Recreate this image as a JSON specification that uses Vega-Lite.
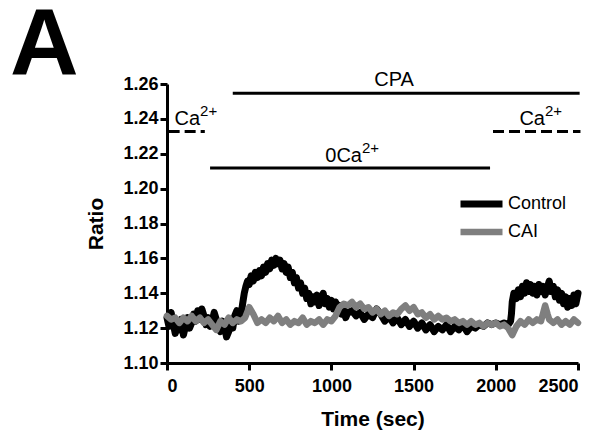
{
  "$schema": "https://vega.github.io/schema/vega-lite/v6.json",
  "width": 411,
  "height": 279,
  "autosize": {"type": "none"},
  "padding": {"left": 167, "top": 84, "right": 25, "bottom": 71},
  "background": "white",
  "title": {"text": "A", "fontSize": 95, "font": "Liberation Sans", "fontWeight": "bold", "color": "black", "anchor": "start", "frame": "group", "dx": -157, "offset": -25},
  "config": {
    "view": {"stroke": null},
    "font": "Liberation Sans",
    "axis": {"domainColor": "black", "domainWidth": 3, "tickColor": "black", "tickWidth": 3, "tickSize": 7, "grid": false, "labelOverlap": false, "labelFont": "Liberation Sans", "labelFontWeight": "bold", "labelFontSize": 18, "labelColor": "black", "titleFont": "Liberation Sans", "titleFontWeight": "bold", "titleFontSize": 21, "titleColor": "black"}
  },
  "datasets": {
    "traces": [
      {"t":0,"ratio":1.126,"series":"Control"},{"t":12,"ratio":1.121,"series":"Control"},{"t":25,"ratio":1.129,"series":"Control"},{"t":37,"ratio":1.123,"series":"Control"},{"t":50,"ratio":1.117,"series":"Control"},{"t":62,"ratio":1.122,"series":"Control"},{"t":75,"ratio":1.119,"series":"Control"},{"t":87,"ratio":1.125,"series":"Control"},{"t":100,"ratio":1.116,"series":"Control"},{"t":112,"ratio":1.121,"series":"Control"},{"t":125,"ratio":1.126,"series":"Control"},{"t":137,"ratio":1.120,"series":"Control"},{"t":150,"ratio":1.123,"series":"Control"},{"t":162,"ratio":1.128,"series":"Control"},{"t":175,"ratio":1.124,"series":"Control"},{"t":187,"ratio":1.130,"series":"Control"},{"t":200,"ratio":1.125,"series":"Control"},{"t":212,"ratio":1.131,"series":"Control"},{"t":225,"ratio":1.127,"series":"Control"},{"t":237,"ratio":1.122,"series":"Control"},{"t":250,"ratio":1.126,"series":"Control"},{"t":262,"ratio":1.121,"series":"Control"},{"t":275,"ratio":1.124,"series":"Control"},{"t":287,"ratio":1.129,"series":"Control"},{"t":300,"ratio":1.125,"series":"Control"},{"t":312,"ratio":1.120,"series":"Control"},{"t":325,"ratio":1.118,"series":"Control"},{"t":337,"ratio":1.124,"series":"Control"},{"t":350,"ratio":1.121,"series":"Control"},{"t":362,"ratio":1.115,"series":"Control"},{"t":375,"ratio":1.118,"series":"Control"},{"t":387,"ratio":1.123,"series":"Control"},{"t":400,"ratio":1.120,"series":"Control"},{"t":412,"ratio":1.127,"series":"Control"},{"t":425,"ratio":1.130,"series":"Control"},{"t":437,"ratio":1.124,"series":"Control"},{"t":450,"ratio":1.127,"series":"Control"},
      {"t":460,"ratio":1.134,"series":"Control"},{"t":470,"ratio":1.140,"series":"Control"},{"t":480,"ratio":1.144,"series":"Control"},{"t":490,"ratio":1.147,"series":"Control"},{"t":500,"ratio":1.145,"series":"Control"},{"t":512,"ratio":1.150,"series":"Control"},{"t":525,"ratio":1.147,"series":"Control"},{"t":537,"ratio":1.152,"series":"Control"},{"t":550,"ratio":1.149,"series":"Control"},{"t":562,"ratio":1.153,"series":"Control"},{"t":575,"ratio":1.150,"series":"Control"},{"t":587,"ratio":1.155,"series":"Control"},{"t":600,"ratio":1.152,"series":"Control"},{"t":612,"ratio":1.157,"series":"Control"},{"t":625,"ratio":1.154,"series":"Control"},{"t":637,"ratio":1.159,"series":"Control"},{"t":650,"ratio":1.156,"series":"Control"},{"t":662,"ratio":1.160,"series":"Control"},{"t":675,"ratio":1.157,"series":"Control"},{"t":687,"ratio":1.159,"series":"Control"},{"t":700,"ratio":1.154,"series":"Control"},{"t":712,"ratio":1.157,"series":"Control"},{"t":725,"ratio":1.152,"series":"Control"},{"t":737,"ratio":1.155,"series":"Control"},{"t":750,"ratio":1.149,"series":"Control"},{"t":762,"ratio":1.152,"series":"Control"},{"t":775,"ratio":1.146,"series":"Control"},{"t":787,"ratio":1.149,"series":"Control"},{"t":800,"ratio":1.143,"series":"Control"},{"t":812,"ratio":1.146,"series":"Control"},{"t":825,"ratio":1.140,"series":"Control"},{"t":837,"ratio":1.143,"series":"Control"},{"t":850,"ratio":1.137,"series":"Control"},{"t":862,"ratio":1.140,"series":"Control"},{"t":875,"ratio":1.134,"series":"Control"},{"t":887,"ratio":1.138,"series":"Control"},{"t":900,"ratio":1.135,"series":"Control"},{"t":912,"ratio":1.139,"series":"Control"},{"t":925,"ratio":1.133,"series":"Control"},{"t":937,"ratio":1.137,"series":"Control"},{"t":950,"ratio":1.140,"series":"Control"},{"t":962,"ratio":1.134,"series":"Control"},{"t":975,"ratio":1.137,"series":"Control"},{"t":987,"ratio":1.132,"series":"Control"},{"t":1000,"ratio":1.136,"series":"Control"},{"t":1012,"ratio":1.131,"series":"Control"},{"t":1025,"ratio":1.135,"series":"Control"},{"t":1037,"ratio":1.130,"series":"Control"},{"t":1050,"ratio":1.133,"series":"Control"},{"t":1062,"ratio":1.128,"series":"Control"},{"t":1075,"ratio":1.131,"series":"Control"},{"t":1087,"ratio":1.126,"series":"Control"},{"t":1100,"ratio":1.129,"series":"Control"},
      {"t":1125,"ratio":1.130,"series":"Control"},{"t":1150,"ratio":1.127,"series":"Control"},{"t":1175,"ratio":1.129,"series":"Control"},{"t":1200,"ratio":1.125,"series":"Control"},{"t":1225,"ratio":1.128,"series":"Control"},{"t":1250,"ratio":1.126,"series":"Control"},{"t":1275,"ratio":1.131,"series":"Control"},{"t":1300,"ratio":1.128,"series":"Control"},{"t":1325,"ratio":1.124,"series":"Control"},{"t":1350,"ratio":1.127,"series":"Control"},{"t":1375,"ratio":1.123,"series":"Control"},{"t":1400,"ratio":1.126,"series":"Control"},{"t":1425,"ratio":1.122,"series":"Control"},{"t":1450,"ratio":1.125,"series":"Control"},{"t":1475,"ratio":1.121,"series":"Control"},{"t":1500,"ratio":1.124,"series":"Control"},{"t":1525,"ratio":1.120,"series":"Control"},{"t":1550,"ratio":1.123,"series":"Control"},{"t":1575,"ratio":1.119,"series":"Control"},{"t":1600,"ratio":1.122,"series":"Control"},{"t":1625,"ratio":1.118,"series":"Control"},{"t":1650,"ratio":1.121,"series":"Control"},{"t":1675,"ratio":1.119,"series":"Control"},{"t":1700,"ratio":1.122,"series":"Control"},{"t":1725,"ratio":1.118,"series":"Control"},{"t":1750,"ratio":1.121,"series":"Control"},{"t":1775,"ratio":1.119,"series":"Control"},{"t":1800,"ratio":1.122,"series":"Control"},{"t":1825,"ratio":1.118,"series":"Control"},{"t":1850,"ratio":1.121,"series":"Control"},{"t":1875,"ratio":1.120,"series":"Control"},{"t":1900,"ratio":1.122,"series":"Control"},{"t":1925,"ratio":1.121,"series":"Control"},{"t":1950,"ratio":1.123,"series":"Control"},{"t":1975,"ratio":1.122,"series":"Control"},{"t":2000,"ratio":1.123,"series":"Control"},{"t":2025,"ratio":1.122,"series":"Control"},{"t":2050,"ratio":1.123,"series":"Control"},{"t":2075,"ratio":1.122,"series":"Control"},{"t":2090,"ratio":1.124,"series":"Control"},
      {"t":2095,"ratio":1.128,"series":"Control"},{"t":2100,"ratio":1.135,"series":"Control"},{"t":2110,"ratio":1.140,"series":"Control"},{"t":2125,"ratio":1.137,"series":"Control"},{"t":2137,"ratio":1.142,"series":"Control"},{"t":2150,"ratio":1.138,"series":"Control"},{"t":2162,"ratio":1.144,"series":"Control"},{"t":2175,"ratio":1.140,"series":"Control"},{"t":2187,"ratio":1.146,"series":"Control"},{"t":2200,"ratio":1.141,"series":"Control"},{"t":2212,"ratio":1.145,"series":"Control"},{"t":2225,"ratio":1.140,"series":"Control"},{"t":2237,"ratio":1.144,"series":"Control"},{"t":2250,"ratio":1.139,"series":"Control"},{"t":2262,"ratio":1.145,"series":"Control"},{"t":2275,"ratio":1.141,"series":"Control"},{"t":2287,"ratio":1.144,"series":"Control"},{"t":2300,"ratio":1.139,"series":"Control"},{"t":2312,"ratio":1.143,"series":"Control"},{"t":2325,"ratio":1.147,"series":"Control"},{"t":2337,"ratio":1.141,"series":"Control"},{"t":2350,"ratio":1.144,"series":"Control"},{"t":2362,"ratio":1.138,"series":"Control"},{"t":2375,"ratio":1.142,"series":"Control"},{"t":2387,"ratio":1.136,"series":"Control"},{"t":2400,"ratio":1.140,"series":"Control"},{"t":2412,"ratio":1.134,"series":"Control"},{"t":2425,"ratio":1.138,"series":"Control"},{"t":2437,"ratio":1.132,"series":"Control"},{"t":2450,"ratio":1.137,"series":"Control"},{"t":2462,"ratio":1.133,"series":"Control"},{"t":2475,"ratio":1.139,"series":"Control"},{"t":2487,"ratio":1.134,"series":"Control"},{"t":2500,"ratio":1.140,"series":"Control"},
      {"t":0,"ratio":1.127,"series":"CAI"},{"t":25,"ratio":1.125,"series":"CAI"},{"t":50,"ratio":1.126,"series":"CAI"},{"t":75,"ratio":1.123,"series":"CAI"},{"t":100,"ratio":1.126,"series":"CAI"},{"t":125,"ratio":1.124,"series":"CAI"},{"t":150,"ratio":1.127,"series":"CAI"},{"t":175,"ratio":1.124,"series":"CAI"},{"t":200,"ratio":1.126,"series":"CAI"},{"t":225,"ratio":1.123,"series":"CAI"},{"t":250,"ratio":1.125,"series":"CAI"},{"t":275,"ratio":1.122,"series":"CAI"},{"t":300,"ratio":1.119,"series":"CAI"},{"t":325,"ratio":1.124,"series":"CAI"},{"t":350,"ratio":1.122,"series":"CAI"},{"t":375,"ratio":1.126,"series":"CAI"},{"t":400,"ratio":1.123,"series":"CAI"},{"t":425,"ratio":1.125,"series":"CAI"},{"t":450,"ratio":1.124,"series":"CAI"},{"t":475,"ratio":1.126,"series":"CAI"},{"t":500,"ratio":1.132,"series":"CAI"},{"t":525,"ratio":1.128,"series":"CAI"},{"t":550,"ratio":1.123,"series":"CAI"},{"t":575,"ratio":1.125,"series":"CAI"},{"t":600,"ratio":1.123,"series":"CAI"},{"t":625,"ratio":1.126,"series":"CAI"},{"t":650,"ratio":1.124,"series":"CAI"},{"t":675,"ratio":1.127,"series":"CAI"},{"t":700,"ratio":1.123,"series":"CAI"},{"t":725,"ratio":1.125,"series":"CAI"},{"t":750,"ratio":1.122,"series":"CAI"},{"t":775,"ratio":1.124,"series":"CAI"},{"t":800,"ratio":1.123,"series":"CAI"},{"t":825,"ratio":1.126,"series":"CAI"},{"t":850,"ratio":1.122,"series":"CAI"},{"t":875,"ratio":1.124,"series":"CAI"},{"t":900,"ratio":1.123,"series":"CAI"},{"t":925,"ratio":1.125,"series":"CAI"},{"t":950,"ratio":1.122,"series":"CAI"},{"t":975,"ratio":1.125,"series":"CAI"},{"t":1000,"ratio":1.124,"series":"CAI"},{"t":1025,"ratio":1.127,"series":"CAI"},{"t":1050,"ratio":1.132,"series":"CAI"},{"t":1075,"ratio":1.134,"series":"CAI"},{"t":1100,"ratio":1.133,"series":"CAI"},{"t":1125,"ratio":1.135,"series":"CAI"},{"t":1150,"ratio":1.132,"series":"CAI"},{"t":1175,"ratio":1.134,"series":"CAI"},{"t":1200,"ratio":1.131,"series":"CAI"},{"t":1225,"ratio":1.132,"series":"CAI"},{"t":1250,"ratio":1.129,"series":"CAI"},{"t":1275,"ratio":1.131,"series":"CAI"},{"t":1300,"ratio":1.128,"series":"CAI"},{"t":1325,"ratio":1.130,"series":"CAI"},{"t":1350,"ratio":1.127,"series":"CAI"},{"t":1375,"ratio":1.129,"series":"CAI"},{"t":1400,"ratio":1.128,"series":"CAI"},{"t":1425,"ratio":1.131,"series":"CAI"},{"t":1450,"ratio":1.133,"series":"CAI"},{"t":1475,"ratio":1.130,"series":"CAI"},{"t":1500,"ratio":1.132,"series":"CAI"},{"t":1525,"ratio":1.128,"series":"CAI"},{"t":1550,"ratio":1.129,"series":"CAI"},{"t":1575,"ratio":1.126,"series":"CAI"},{"t":1600,"ratio":1.128,"series":"CAI"},{"t":1625,"ratio":1.125,"series":"CAI"},{"t":1650,"ratio":1.127,"series":"CAI"},{"t":1675,"ratio":1.125,"series":"CAI"},{"t":1700,"ratio":1.126,"series":"CAI"},{"t":1725,"ratio":1.124,"series":"CAI"},{"t":1750,"ratio":1.125,"series":"CAI"},{"t":1775,"ratio":1.123,"series":"CAI"},{"t":1800,"ratio":1.124,"series":"CAI"},{"t":1825,"ratio":1.122,"series":"CAI"},{"t":1850,"ratio":1.124,"series":"CAI"},{"t":1875,"ratio":1.122,"series":"CAI"},{"t":1900,"ratio":1.123,"series":"CAI"},{"t":1925,"ratio":1.121,"series":"CAI"},{"t":1950,"ratio":1.123,"series":"CAI"},{"t":1975,"ratio":1.122,"series":"CAI"},{"t":2000,"ratio":1.123,"series":"CAI"},{"t":2025,"ratio":1.121,"series":"CAI"},{"t":2050,"ratio":1.122,"series":"CAI"},{"t":2075,"ratio":1.120,"series":"CAI"},{"t":2100,"ratio":1.116,"series":"CAI"},{"t":2125,"ratio":1.121,"series":"CAI"},{"t":2150,"ratio":1.124,"series":"CAI"},{"t":2175,"ratio":1.122,"series":"CAI"},{"t":2200,"ratio":1.125,"series":"CAI"},{"t":2225,"ratio":1.123,"series":"CAI"},{"t":2250,"ratio":1.125,"series":"CAI"},{"t":2275,"ratio":1.124,"series":"CAI"},{"t":2300,"ratio":1.133,"series":"CAI"},{"t":2315,"ratio":1.128,"series":"CAI"},{"t":2325,"ratio":1.125,"series":"CAI"},{"t":2350,"ratio":1.123,"series":"CAI"},{"t":2375,"ratio":1.125,"series":"CAI"},{"t":2400,"ratio":1.122,"series":"CAI"},{"t":2425,"ratio":1.124,"series":"CAI"},{"t":2450,"ratio":1.122,"series":"CAI"},{"t":2475,"ratio":1.125,"series":"CAI"},{"t":2500,"ratio":1.123,"series":"CAI"}
    ],
    "bars": [
      {"name":"CPA","start":400,"end":2510,"level":1.2547,"style":"solid"},
      {"name":"0Ca","start":262,"end":1965,"level":1.2118,"style":"solid"},
      {"name":"Ca left","start":10,"end":230,"level":1.2327,"style":"dashed"},
      {"name":"Ca right","start":1983,"end":2515,"level":1.2327,"style":"dashed"}
    ],
    "labels": [
      {"main":"CPA","sup":"","at":1381,"level":1.2589,"kind":"center"},
      {"main":"Ca","sup":"2+","at":201,"level":1.2365,"kind":"right"},
      {"main":"Ca","sup":"2+","at":2299,"level":1.2365,"kind":"right"},
      {"main":"0Ca","sup":"2+","at":1186,"level":1.2155,"kind":"right"}
    ]
  },
  "layer": [
    {
      "data": {"name": "traces"},
      "mark": {"type": "line", "strokeJoin": "round", "strokeCap": "round"},
      "encoding": {
        "x": {"field": "t", "type": "quantitative", "scale": {"domain": [0, 2500], "nice": false}, "axis": {"values": [0,500,1000,1500,2000,2500], "tickCount": 6, "format": "d", "title": "Time (sec)", "labelPadding": 7, "titlePadding": 13, "labelOverlap": false}},
        "y": {"field": "ratio", "type": "quantitative", "scale": {"domain": [1.10, 1.26], "nice": false, "zero": false}, "axis": {"values": [1.10,1.12,1.14,1.16,1.18,1.20,1.22,1.24,1.26], "tickCount": 9, "format": ".2f", "title": "Ratio", "labelPadding": 2, "titlePadding": 16, "labelOverlap": false, "labelBound": false}},
        "color": {"field": "series", "type": "nominal", "sort": ["Control", "CAI"], "scale": {"domain": ["Control", "CAI"], "range": ["#000000", "#7f7f7f"]},
          "legend": {"title": null, "orient": "none", "legendX": 290, "legendY": 108, "symbolType": "stroke", "symbolStrokeWidth": 6, "symbolSize": 1764, "clipHeight": 24, "rowPadding": 4, "labelFontSize": 18, "labelFont": "Liberation Sans", "labelColor": "black", "labelOffset": 2}},
        "strokeWidth": {"field": "series", "type": "nominal", "scale": {"domain": ["Control", "CAI"], "range": [7, 6.5]}, "legend": null},
        "order": {"field": "t", "type": "quantitative"}
      }
    },
    {
      "data": {"name": "bars"},
      "transform": [{"filter": "datum.style === 'solid'"}],
      "mark": {"type": "rule", "strokeWidth": 3, "color": "black"},
      "encoding": {"x": {"field": "start", "type": "quantitative"}, "x2": {"field": "end"}, "y": {"field": "level", "type": "quantitative"}}
    },
    {
      "data": {"name": "bars"},
      "transform": [{"filter": "datum.style === 'dashed'"}],
      "mark": {"type": "rule", "strokeWidth": 3, "color": "black", "strokeDash": [11, 5]},
      "encoding": {"x": {"field": "start", "type": "quantitative"}, "x2": {"field": "end"}, "y": {"field": "level", "type": "quantitative"}}
    },
    {
      "data": {"name": "labels"},
      "transform": [{"filter": "datum.kind === 'center'"}],
      "mark": {"type": "text", "align": "center", "baseline": "alphabetic", "fontSize": 20, "font": "Liberation Sans", "color": "black"},
      "encoding": {"x": {"field": "at", "type": "quantitative"}, "y": {"field": "level", "type": "quantitative"}, "text": {"field": "main"}}
    },
    {
      "data": {"name": "labels"},
      "transform": [{"filter": "datum.kind === 'right'"}],
      "mark": {"type": "text", "align": "right", "baseline": "alphabetic", "fontSize": 20, "font": "Liberation Sans", "color": "black"},
      "encoding": {"x": {"field": "at", "type": "quantitative"}, "y": {"field": "level", "type": "quantitative"}, "text": {"field": "main"}}
    },
    {
      "data": {"name": "labels"},
      "transform": [{"filter": "datum.kind === 'right'"}],
      "mark": {"type": "text", "align": "left", "baseline": "alphabetic", "fontSize": 15, "font": "Liberation Sans", "color": "black", "dy": -9},
      "encoding": {"x": {"field": "at", "type": "quantitative"}, "y": {"field": "level", "type": "quantitative"}, "text": {"field": "sup"}}
    }
  ]
}
